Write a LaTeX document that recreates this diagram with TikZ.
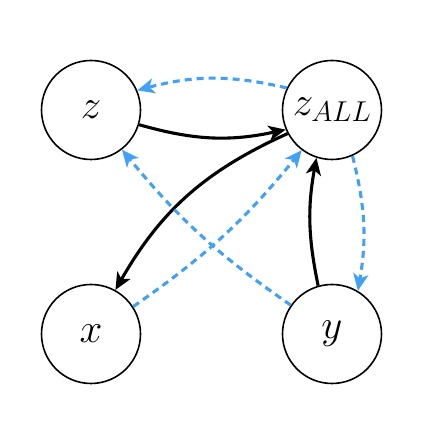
\RequirePackage{fix-cm}
\documentclass[tikz,border=0pt]{standalone}
\usetikzlibrary{arrows.meta}
\definecolor{dblue}{RGB}{66,160,245}
\begin{document}
\begin{tikzpicture}[x=1pt,y=1pt,
  var/.style={circle,draw=black,line width=1.6pt,minimum size=99pt,inner sep=0pt,font=\fontsize{41}{49}\selectfont},
  solidarrow/.style={draw=black,line width=3.1pt,-{Stealth[length=17pt,width=15pt,inset=4.5pt]}},
  dasharrow/.style={draw=dblue,line width=3.1pt,dash pattern=on 7pt off 5pt,-{Stealth[length=17pt,width=15pt,inset=4.5pt]}}]
\useasboundingbox (0,0) rectangle (426,422);
\node[var] (z) at (91,312) {$z$};
\node[var] (za) at (332,312) {$z_{ALL}$};
\node[var] (x) at (91,88) {$x$};
\node[var] (y) at (332,88) {$y$};
% solid
\draw[solidarrow] (z.-17) to[bend right=14] (za.203);
\draw[solidarrow] (za.208) to[bend right=18] (x.61);
\draw[solidarrow] (y.106) to[bend left=11] (za.252);
% dashed
\draw[dasharrow] (za.154) to[bend right=14] (z.23);
\draw[dasharrow] (za.-66) to[bend left=12] (y.59);
\draw[dasharrow] (x.33) to[bend right=8] (za.233);
\draw[dasharrow] (y.145) to[bend left=8] (z.-52);
\end{tikzpicture}
\end{document}
